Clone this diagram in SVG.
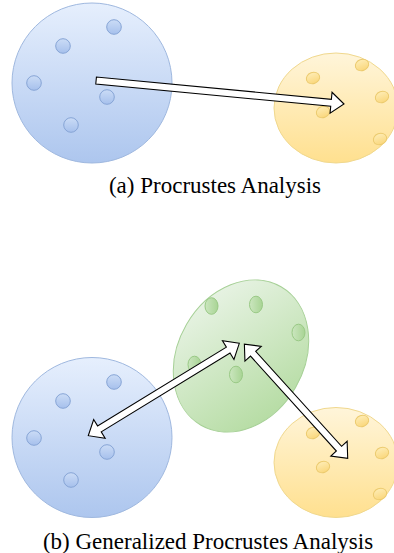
<svg xmlns="http://www.w3.org/2000/svg" width="394" height="553" viewBox="0 0 394 553">
<defs>
<linearGradient id="gBlue" x1="0" y1="0" x2="0" y2="1"><stop offset="0" stop-color="#e6effd"/><stop offset="1" stop-color="#adc6ee"/></linearGradient>
<linearGradient id="gBlueDot" x1="0" y1="0" x2="0" y2="1"><stop offset="0" stop-color="#cbdcf6"/><stop offset="1" stop-color="#a6c0ec"/></linearGradient>
<linearGradient id="gYel" x1="0" y1="0" x2="0" y2="1"><stop offset="0" stop-color="#fff5da"/><stop offset="1" stop-color="#ffe08f"/></linearGradient>
<linearGradient id="gYelDot" x1="0" y1="0" x2="0" y2="1"><stop offset="0" stop-color="#feecb4"/><stop offset="1" stop-color="#fad77c"/></linearGradient>
<linearGradient id="gGrn" x1="0" y1="0.2" x2="1" y2="0.8"><stop offset="0" stop-color="#eaf4e7"/><stop offset="1" stop-color="#b3dba0"/></linearGradient>
<linearGradient id="gGrnDot" x1="0" y1="0" x2="1" y2="0"><stop offset="0" stop-color="#cbe6bf"/><stop offset="1" stop-color="#a8d494"/></linearGradient>
</defs>
<style>
.blue{fill:url(#gBlue);stroke:#9fb8df;stroke-width:1}
.bdot{fill:url(#gBlueDot);stroke:#87a5d6;stroke-width:1}
.yel{fill:url(#gYel);stroke:#f0d88e;stroke-width:1}
.ydot{fill:url(#gYelDot);stroke:#eccb6f;stroke-width:1}
.grn{fill:url(#gGrn);stroke:#a6d096;stroke-width:1}
.gdot{fill:url(#gGrnDot);stroke:#99c985;stroke-width:1}
.arrow{fill:#ffffff;stroke:#000000;stroke-width:1.1;stroke-linejoin:miter}
.cap{font-family:"Liberation Serif","Times New Roman",serif;font-size:23px;fill:#000000;text-anchor:middle}
</style>

<g id="blue-a">
<circle class="blue" cx="92" cy="83" r="80"/>
<circle class="bdot" cx="114" cy="27" r="7.3"/>
<circle class="bdot" cx="63" cy="46" r="7.3"/>
<circle class="bdot" cx="34" cy="83" r="7.3"/>
<circle class="bdot" cx="107" cy="97" r="7.3"/>
<circle class="bdot" cx="71" cy="125" r="7.3"/>
</g>

<g id="yellow-a">
<ellipse class="yel" cx="336" cy="108" rx="62" ry="55"/>
<ellipse class="ydot" cx="313" cy="78" rx="6.8" ry="5.6" transform="rotate(-20 313 78)"/>
<ellipse class="ydot" cx="362" cy="65" rx="6.8" ry="5.6" transform="rotate(-20 362 65)"/>
<ellipse class="ydot" cx="382" cy="97" rx="6.8" ry="5.6" transform="rotate(-20 382 97)"/>
<ellipse class="ydot" cx="323" cy="112" rx="6.8" ry="5.6" transform="rotate(-20 323 112)"/>
<ellipse class="ydot" cx="380" cy="139" rx="6.8" ry="5.6" transform="rotate(-20 380 139)"/>
</g>

<g id="blue-b">
<circle class="blue" cx="92" cy="437.5" r="80"/>
<circle class="bdot" cx="114" cy="382" r="7.3"/>
<circle class="bdot" cx="63" cy="401" r="7.3"/>
<circle class="bdot" cx="34" cy="438" r="7.3"/>
<circle class="bdot" cx="107" cy="452" r="7.3"/>
<circle class="bdot" cx="71" cy="480" r="7.3"/>
</g>

<g id="yellow-b">
<ellipse class="yel" cx="336" cy="462.5" rx="62" ry="55"/>
<ellipse class="ydot" cx="313" cy="433" rx="6.8" ry="5.6" transform="rotate(-20 313 433)"/>
<ellipse class="ydot" cx="362" cy="421" rx="6.8" ry="5.6" transform="rotate(-20 362 421)"/>
<ellipse class="ydot" cx="382" cy="453" rx="6.8" ry="5.6" transform="rotate(-20 382 453)"/>
<ellipse class="ydot" cx="323" cy="467" rx="6.8" ry="5.6" transform="rotate(-20 323 467)"/>
<ellipse class="ydot" cx="380" cy="494" rx="6.8" ry="5.6" transform="rotate(-20 380 494)"/>
</g>

<g id="green-b">
<ellipse class="grn" cx="241" cy="356" rx="63" ry="80" transform="rotate(30 241 356)"/>
<ellipse class="gdot" cx="211.5" cy="306" rx="6.5" ry="8.3"/>
<ellipse class="gdot" cx="256" cy="304.5" rx="6.5" ry="8.3"/>
<ellipse class="gdot" cx="298.5" cy="332.5" rx="6.5" ry="8.3"/>
<ellipse class="gdot" cx="194.5" cy="364.5" rx="6.5" ry="8.3"/>
<ellipse class="gdot" cx="236" cy="374.5" rx="6.5" ry="8.3"/>
</g>

<g id="connectors">
<polygon class="arrow" transform="translate(344 104) rotate(5.41)" points="0,0 -13,-10.5 -13,-3.5 -249,-3.5 -249,3.5 -13,3.5 -13,10.5"/>
<polygon class="arrow" transform="translate(239.3 343.3) rotate(-31.46)" points="0,0 -13,-11 -13,-3.5 -164,-3.5 -164,-11 -177,0 -164,11 -164,3.5 -13,3.5 -13,11"/>
<polygon class="arrow" transform="translate(347.7 458.3) rotate(47.86)" points="0,0 -13,-11 -13,-3.5 -141,-3.5 -141,-11 -154,0 -141,11 -141,3.5 -13,3.5 -13,11"/>
</g>

<g id="captions">
<text class="cap" x="215" y="193">(a) Procrustes Analysis</text>
<text class="cap" x="208" y="549">(b) Generalized Procrustes Analysis</text>
</g>
</svg>
